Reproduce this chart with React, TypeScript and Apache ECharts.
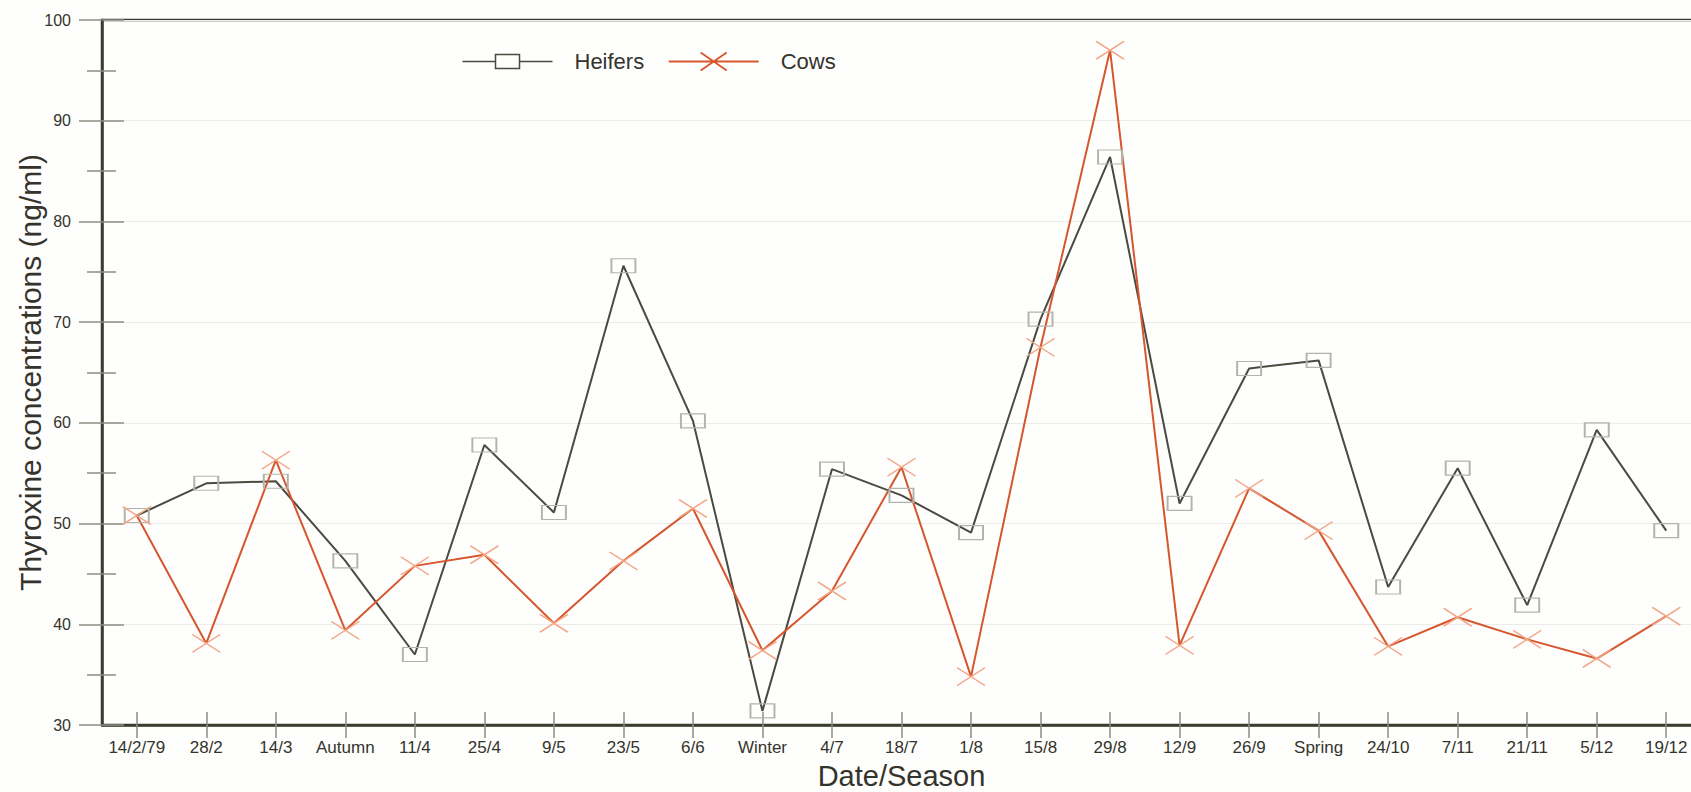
import React, { useEffect, useRef } from "react";
import * as echarts from "echarts";

const categories = [
  "14/2/79", "28/2", "14/3", "Autumn", "11/4", "25/4", "9/5", "23/5", "6/6", "Winter",
  "4/7", "18/7", "1/8", "15/8", "29/8", "12/9", "26/9", "Spring", "24/10", "7/11",
  "21/11", "5/12", "19/12",
];

const heifers = [
  50.8, 54.0, 54.2, 46.3, 37.0, 57.8, 51.1, 75.6, 60.2, 31.4,
  55.4, 52.8, 49.1, 70.3, 86.4, 52.0, 65.4, 66.2, 43.7, 55.5,
  41.9, 59.3, 49.3,
];

const cows = [
  50.8, 38.1, 56.3, 39.4, 45.8, 46.9, 40.1, 46.3, 51.5, 37.4,
  43.3, 55.6, 34.8, 67.5, 97.0, 37.9, 53.5, 49.3, 37.8, 40.7,
  38.5, 36.6, 40.8,
];

const yTicks = { min: 30, max: 100, interval: 10 };

const FONT = "'Liberation Sans', Arial, Helvetica, sans-serif";
const AXIS_DARK = "#3b3b2e";
const TICK_GRAY = "#8c8c84";
const TEXT = "#34342c";
const HEIFER_LINE = "#4a4a40";
const HEIFER_MARK = "#b3b3ad";
const COW_LINE = "#d6562e";
const COW_MARK = "#f2a586";

const heiferIcon = "path://M0,0M90,18M0,9L33,9M33,2L57,2L57,16L33,16ZM57,9L90,9";
const cowIcon = "path://M0,9L90,9M32,0L58,18M32,18L58,0";

export default function App() {
  const ref = useRef<HTMLDivElement>(null);

  useEffect(() => {
    if (!ref.current) return;
    const chart = echarts.init(ref.current, undefined, { renderer: "svg" });
    chart.setOption({
      animation: false,
      backgroundColor: "#fefefc",
      textStyle: { fontFamily: FONT },
      grid: {
        left: 102,
        top: 20,
        right: 0,
        bottom: 67,
        show: true,
        borderColor: AXIS_DARK,
        borderWidth: 2.5,
        backgroundColor: "transparent",
        containLabel: false,
        outerBoundsMode: "none",
      },
      legend: {
        left: 455,
        top: 45,
        itemWidth: 90,
        itemHeight: 18,
        itemGap: 22,
        textStyle: { fontSize: 22, color: TEXT, fontFamily: FONT, padding: [0, 0, 0, 17] },
        data: [
          {
            name: "Heifers",
            icon: heiferIcon,
            itemStyle: { color: "none", borderColor: HEIFER_LINE, borderWidth: 1.5 },
          },
          {
            name: "Cows",
            icon: cowIcon,
            itemStyle: { color: "none", borderColor: COW_LINE, borderWidth: 1.8 },
          },
        ],
      },
      xAxis: [
        {
          type: "category",
          data: categories,
          position: "bottom",
          boundaryGap: true,
          name: "Date/Season",
          nameLocation: "middle",
          nameGap: 38,
          nameMoveOverlap: false,
          nameTextStyle: { fontSize: 29, lineHeight: 26, color: TEXT, fontFamily: FONT },
          axisLine: { show: true, lineStyle: { color: AXIS_DARK, width: 2.5 } },
          axisTick: {
            show: true,
            alignWithLabel: true,
            length: 13,
            lineStyle: { color: TICK_GRAY, width: 1.5 },
          },
          axisLabel: { fontSize: 17, margin: 14, color: TEXT, interval: 0, fontFamily: FONT },
          splitLine: { show: false },
        },
        {
          type: "category",
          data: categories,
          position: "bottom",
          boundaryGap: true,
          axisLine: { show: false },
          axisTick: {
            show: true,
            inside: true,
            alignWithLabel: true,
            length: 13,
            lineStyle: { color: TICK_GRAY, width: 1.5 },
          },
          axisLabel: { show: false },
          splitLine: { show: false },
        },
      ],
      yAxis: [
        {
          type: "value",
          position: "left",
          min: yTicks.min,
          max: yTicks.max,
          interval: yTicks.interval,
          name: "Thyroxine concentrations (ng/ml)",
          nameLocation: "middle",
          nameGap: 57,
          nameMoveOverlap: false,
          nameTextStyle: { fontSize: 30, color: TEXT, fontFamily: FONT },
          axisLine: { show: true, lineStyle: { color: AXIS_DARK, width: 2.5 } },
          axisTick: { show: true, length: 23, lineStyle: { color: TICK_GRAY, width: 1.5 } },
          minorTick: {
            show: true,
            splitNumber: 2,
            length: 15,
            lineStyle: { color: TICK_GRAY, width: 1.5 },
          },
          axisLabel: { fontSize: 16, margin: 31, color: TEXT, fontFamily: FONT },
          splitLine: { show: true, lineStyle: { color: "#ececea", width: 1 } },
        },
        {
          type: "value",
          position: "left",
          min: yTicks.min,
          max: yTicks.max,
          interval: yTicks.interval,
          axisLine: { show: false },
          axisTick: { show: true, inside: true, length: 22, lineStyle: { color: TICK_GRAY, width: 1.5 } },
          minorTick: {
            show: true,
            splitNumber: 2,
            length: 14,
            lineStyle: { color: TICK_GRAY, width: 1.5 },
          },
          axisLabel: { show: false },
          splitLine: { show: false },
        },
      ],
      series: [
        {
          name: "Heifers",
          type: "line",
          data: heifers,
          xAxisIndex: 0,
          yAxisIndex: 0,
          symbol: "rect",
          symbolSize: [24, 14],
          showAllSymbol: true,
          lineStyle: { color: HEIFER_LINE, width: 2 },
          itemStyle: { color: "none", borderColor: HEIFER_MARK, borderWidth: 1.5 },
          emphasis: { disabled: true },
        },
        {
          name: "Cows",
          type: "line",
          data: cows,
          xAxisIndex: 0,
          yAxisIndex: 0,
          symbol: "path://M0,0L26,16M0,16L26,0",
          symbolSize: [28, 18],
          showAllSymbol: true,
          lineStyle: { color: COW_LINE, width: 2 },
          itemStyle: { color: "none", borderColor: COW_MARK, borderWidth: 1.5 },
          emphasis: { disabled: true },
        },
      ],
    });
    return () => chart.dispose();
  }, []);

  return (
    <div
      style={{
        position: "absolute",
        left: 0,
        top: 0,
        width: 1691,
        height: 792,
        overflow: "hidden",
      }}
    >
      <div ref={ref} style={{ width: 1701, height: 792 }} />
    </div>
  );
}
